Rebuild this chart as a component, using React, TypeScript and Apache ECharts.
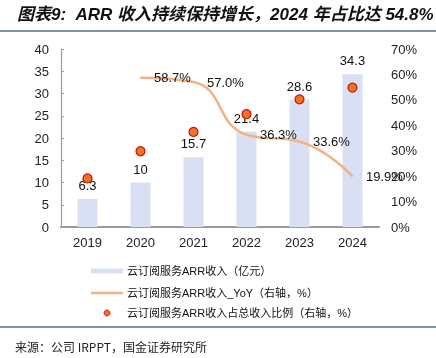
import React, { useEffect, useRef } from "react";
import * as echarts from "echarts";

const categories = ["2019", "2020", "2021", "2022", "2023", "2024"];
const arrValues = [6.3, 10, 15.7, 21.4, 28.6, 34.3];
const yoyValues: (number | null)[] = [null, 58.7, 57.0, 36.3, 33.6, 19.9];
const shareValues = [19.1, 29.8, 37.4, 44.4, 50.2, 54.8];
const seriesNames = [
  "云订阅服务ARR收入（亿元）",
  "云订阅服务ARR收入_YoY（右轴，%）",
  "云订阅服务ARR收入占总收入比例（右轴，%）",
];
const titleText = "图表9:  ARR 收入持续保持增长，2024 年占比达 54.8%";
const sourceText = "来源：公司 IRPPT，国金证券研究所";

const LATIN = "'Liberation Sans', Arial, 'Noto Sans CJK SC', sans-serif";
const CJK = "'Liberation Sans', 'Noto Sans CJK SC', sans-serif";

export default function App() {
  const ref = useRef<HTMLDivElement>(null);
  useEffect(() => {
    if (!ref.current) return;
    const chart = echarts.init(ref.current, undefined, { renderer: "svg" });
    const legendX = 91;
    const legendTextX = 127;
    const rows = [271, 293, 313];
    chart.setOption({
      animation: false,
      grid: { left: 61, right: 57, top: 49, bottom: 131 },
      xAxis: {
        type: "category",
        data: categories,
        axisLine: { lineStyle: { color: "#9a9a9a", width: 2 } },
        axisTick: { show: false },
        axisLabel: { color: "#222", fontSize: 13, fontFamily: LATIN, margin: 9 },
      },
      yAxis: [
        {
          type: "value",
          min: 0,
          max: 40,
          interval: 5,
          axisLine: { show: true, lineStyle: { color: "#9a9a9a", width: 1.2 } },
          axisTick: { show: true, inside: true, length: 3, lineStyle: { color: "#9a9a9a" } },
          splitLine: { show: false },
          axisLabel: { color: "#222", fontSize: 13, fontFamily: LATIN, margin: 12 },
        },
        {
          type: "value",
          min: 0,
          max: 70,
          interval: 10,
          axisLine: { show: false },
          axisTick: { show: false },
          splitLine: { show: false },
          axisLabel: { color: "#222", fontSize: 13, fontFamily: LATIN, margin: 12, formatter: "{value}%" },
        },
      ],
      series: [
        {
          name: seriesNames[0],
          type: "bar",
          data: arrValues,
          barWidth: 20,
          itemStyle: { color: "#D9E0F3" },
          label: { show: true, position: "top", distance: 7, color: "#111", fontSize: 13, fontFamily: LATIN },
          z: 1,
        },
        {
          name: seriesNames[1],
          type: "line",
          yAxisIndex: 1,
          data: yoyValues,
          smooth: 0.5,
          symbol: "circle",
          symbolSize: 1,
          lineStyle: { color: "#F4B183", width: 2.5 },
          itemStyle: { color: "#F4B183" },
          label: {
            show: true,
            position: "right",
            distance: 13,
            color: "#111",
            fontSize: 13,
            fontFamily: LATIN,
            formatter: (p: any) => `${Number(p.value).toFixed(1)}%`,
          },
          z: 2,
        },
        {
          name: seriesNames[2],
          type: "scatter",
          yAxisIndex: 1,
          data: shareValues,
          symbolSize: 9,
          itemStyle: { color: "#EE7623", borderColor: "#D01010", borderWidth: 1.2, opacity: 1 },
          z: 3,
        },
      ],
      graphic: [
        {
          type: "text",
          left: 17,
          top: 6,
          style: {
            text: titleText,
            font: "italic bold 17px 'Liberation Sans', 'Noto Sans CJK SC', sans-serif",
            fill: "#111",
          },
        },
        { type: "line", shape: { x1: 0, y1: 31, x2: 436, y2: 31 }, style: { stroke: "#4F6F8C", lineWidth: 1.5 } },
        { type: "rect", shape: { x: legendX, y: rows[0] - 2.5, width: 32, height: 5 }, style: { fill: "#D9E0F3" } },
        { type: "line", shape: { x1: legendX, y1: rows[1], x2: legendX + 32, y2: rows[1] }, style: { stroke: "#F4B183", lineWidth: 2.5 } },
        { type: "circle", shape: { cx: legendX + 16, cy: rows[2], r: 3 }, style: { fill: "#EE7623", stroke: "#D01010", lineWidth: 1 } },
        ...seriesNames.map((n, i) => ({
          type: "text",
          x: legendTextX,
          y: rows[i],
          style: { text: n, font: `11px ${CJK}`, fill: "#111", textVerticalAlign: "middle" },
        })),
        { type: "line", shape: { x1: 0, y1: 327, x2: 436, y2: 327 }, style: { stroke: "#4F6F8C", lineWidth: 1.5 } },
        {
          type: "text",
          x: 15,
          y: 346,
          style: { text: sourceText, font: `12px 'Noto Sans CJK SC', sans-serif`, fill: "#222", textVerticalAlign: "middle" },
        },
      ],
    });
    return () => chart.dispose();
  }, []);
  return <div ref={ref} style={{ position: "fixed", left: 0, top: 0, width: 436, height: 358 }} />;
}
